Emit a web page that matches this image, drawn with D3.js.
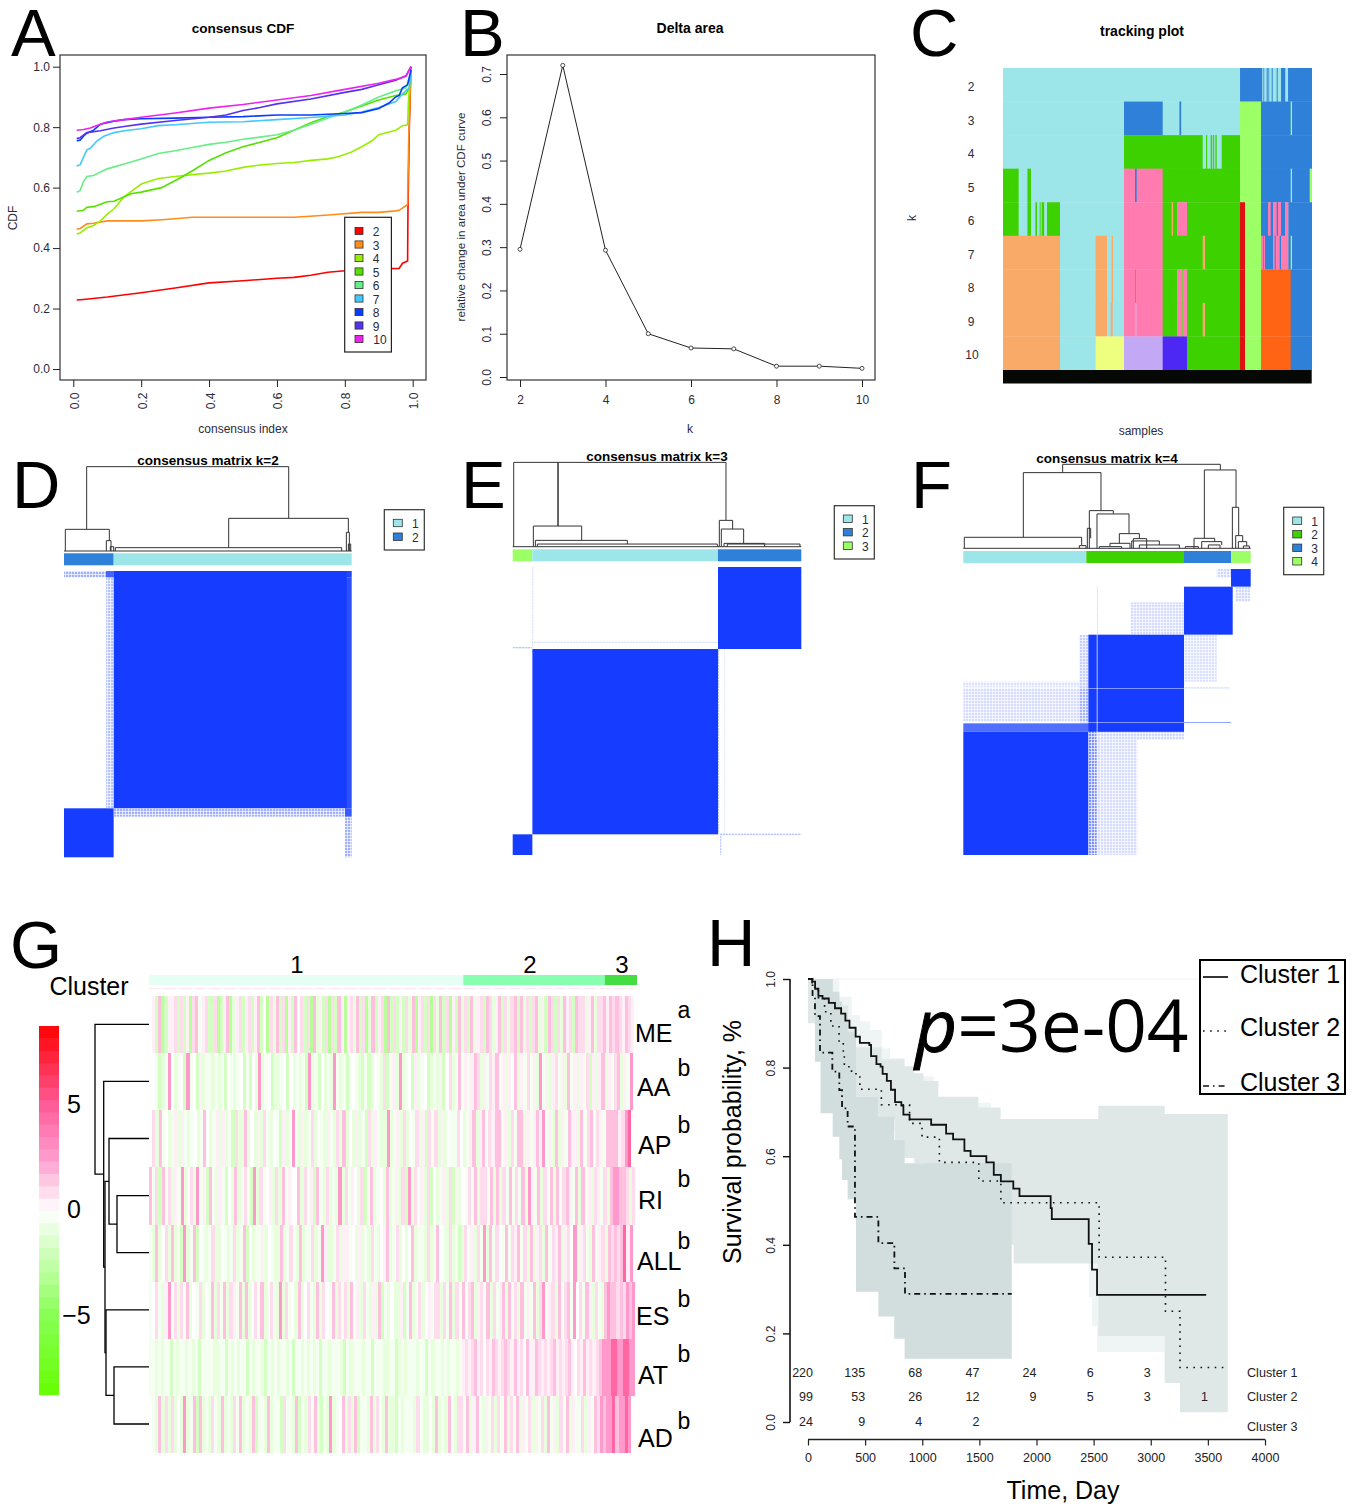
<!DOCTYPE html>
<html>
<head>
<meta charset="utf-8">
<title>consensus clustering figure</title>
<script src="https://cdnjs.cloudflare.com/ajax/libs/d3/7.8.5/d3.min.js"></script>
<style>
html, body { margin: 0; padding: 0; background: #fff; }
svg { display: block; }
text { font-family: "Liberation Sans", Arial, sans-serif; }
</style>
</head>
<body>
<div id="chart"></div>
<script>
// panel A - consensus CDF, one list per k
const cdf2 = [[.01,.228],[.03,.23],[.1,.238],[.2,.252],[.3,.268],[.4,.285],[.5,.292],[.6,.3],[.65,.303],[.7,.31],[.75,.32],[.8,.325],[.85,.33],[.9,.332],[.96,.333],[.97,.35],[.985,.357],[.986,.52],[.99,.8],[.995,1]];
const cdf3 = [[.01,.462],[.02,.465],[.04,.48],[.06,.482],[.1,.49],[.2,.49],[.25,.493],[.3,.497],[.35,.502],[.5,.502],[.65,.502],[.72,.507],[.78,.512],[.85,.518],[.9,.518],[.95,.523],[.96,.525],[.98,.54],[.985,.545],[.988,.75],[.992,.9],[.995,1]];
const cdf4 = [[.01,.447],[.02,.45],[.04,.467],[.06,.475],[.08,.49],[.1,.512],[.12,.53],[.15,.57],[.18,.595],[.2,.612],[.25,.63],[.3,.637],[.35,.643],[.4,.648],[.45,.655],[.5,.667],[.55,.675],[.6,.68],[.65,.683],[.7,.69],[.75,.695],[.78,.702],[.82,.718],[.85,.735],[.88,.755],[.9,.775],[.95,.79],[.97,.805],[.985,.808],[.988,.9],[.995,.98]];
const cdf5 = [[.01,.522],[.03,.525],[.04,.535],[.06,.537],[.08,.545],[.1,.553],[.12,.555],[.17,.58],[.2,.585],[.26,.6],[.32,.635],[.35,.655],[.4,.69],[.45,.715],[.5,.735],[.55,.75],[.6,.765],[.65,.79],[.7,.815],[.75,.835],[.8,.85],[.85,.87],[.9,.89],[.95,.905],[.98,.91],[.99,.93],[.995,.98]];
const cdf6 = [[.01,.585],[.02,.59],[.03,.62],[.04,.637],[.06,.64],[.08,.652],[.1,.662],[.15,.678],[.2,.695],[.25,.713],[.3,.722],[.35,.733],[.4,.743],[.45,.75],[.5,.76],[.55,.767],[.6,.775],[.65,.79],[.7,.81],[.75,.83],[.8,.85],[.85,.873],[.9,.9],[.95,.92],[.98,.93],[.995,.98]];
const cdf7 = [[.01,.672],[.02,.675],[.03,.7],[.04,.725],[.05,.73],[.07,.755],[.09,.77],[.12,.782],[.15,.788],[.2,.795],[.25,.805],[.3,.808],[.35,.812],[.4,.816],[.5,.818],[.6,.825],[.7,.832],[.75,.836],[.8,.84],[.85,.85],[.9,.865],[.95,.885],[.97,.91],[.99,.93],[.995,.99]];
const cdf8 = [[.01,.755],[.02,.757],[.03,.77],[.04,.78],[.06,.79],[.08,.81],[.1,.815],[.12,.82],[.15,.825],[.2,.828],[.3,.83],[.4,.833],[.5,.835],[.6,.84],[.7,.84],[.8,.845],[.85,.848],[.9,.862],[.93,.88],[.95,.9],[.96,.905],[.97,.93],[.985,.94],[.995,.99]];
const cdf9 = [[.01,.762],[.02,.765],[.04,.782],[.08,.788],[.12,.797],[.15,.802],[.2,.81],[.3,.822],[.4,.833],[.45,.84],[.5,.855],[.55,.865],[.6,.877],[.7,.893],[.8,.915],[.85,.925],[.9,.94],[.95,.955],[.98,.97],[.995,1]];
const cdf10 = [[.01,.79],[.03,.792],[.05,.797],[.08,.81],[.1,.817],[.15,.825],[.2,.833],[.3,.847],[.4,.863],[.5,.875],[.6,.89],[.7,.905],[.8,.925],[.9,.945],[.95,.958],[.98,.968],[.995,1]];
const cdfSeries = [cdf2, cdf3, cdf4, cdf5, cdf6, cdf7, cdf8, cdf9, cdf10];
const cdfLabels = ["2","3","4","5","6","7","8","9","10"];
const cdfColors = ["#ff0000","#ff8c1a","#99ee00","#55e000","#66ee88","#44c8ff","#0a3cff","#5533ee","#ee22ee"];
const unitTicks = [0,.2,.4,.6,.8,1];

// panel B - delta area
const deltaK = [2,3,4,5,6,7,8,9,10];
const deltaArea = [.295,.72,.293,.1,.067,.065,.025,.025,.02];
const deltaYTicks = [0,.1,.2,.3,.4,.5,.6,.7];
const deltaXTicks = [2,4,6,8,10];

// panel C - tracking plot, runs of [cluster colour key, end rank]
const trackColors = {a:"#9ce5e8",b:"#2e80d9",c:"#3dd100",d:"#9cff66",e:"#ff7bb0",f:"#f9aa69",g:"#eeff80",h:"#c2a8f5",i:"#4d28f5",j:"#e01010",k:"#ff6314",l:"#ff5a70"};
const track2 = [["a",711],["b",778],["a",781],["b",784],["a",791],["b",794],["a",796],["b",799],["a",806],["b",809],["a",821],["b",824],["a",834],["b",847],["a",855],["b",926]];
const track3 = [["a",363],["b",479],["a",529],["b",535],["a",711],["d",774],["b",863],["d",867],["b",926]];
const track4 = [["a",363],["c",599],["a",609],["c",613],["a",623],["c",628],["a",630],["c",634],["a",637],["c",641],["a",656],["c",711],["d",774],["b",926]];
const track5 = [["c",47],["a",73],["c",84],["a",363],["e",396],["b",401],["e",479],["c",711],["d",774],["b",863],["a",867],["b",920],["d",926]];
const track6 = [["c",47],["a",73],["c",84],["a",97],["c",102],["a",110],["c",113],["a",116],["c",124],["a",132],["c",171],["a",363],["e",479],["c",506],["f",510],["c",523],["e",552],["c",711],["j",726],["d",774],["b",795],["e",803],["b",810],["e",821],["b",825],["e",834],["b",846],["e",856],["b",926]];
const track7 = [["f",171],["a",278],["f",312],["a",325],["f",330],["a",363],["e",479],["c",599],["f",606],["c",711],["j",726],["d",774],["e",780],["b",782],["e",786],["b",810],["e",815],["b",818],["e",830],["b",834],["e",856],["b",863],["d",867],["b",926]];
const track8 = [["f",171],["a",278],["f",312],["a",325],["f",330],["a",363],["e",396],["l",400],["e",479],["c",523],["e",538],["c",541],["e",552],["c",711],["j",726],["d",774],["k",863],["b",926]];
const track9 = [["f",171],["a",278],["f",312],["a",323],["f",329],["a",363],["e",396],["h",400],["e",479],["c",523],["e",538],["c",541],["e",552],["c",599],["f",606],["c",711],["j",726],["d",774],["k",863],["b",926]];
const track10 = [["f",171],["a",278],["g",363],["h",479],["i",552],["c",711],["j",726],["d",774],["k",863],["b",926]];
const trackRows = [track2, track3, track4, track5, track6, track7, track8, track9, track10];
const trackLabels = ["2","3","4","5","6","7","8","9","10"];

// panels D E F - consensus matrices. blocks are [x0,x1,y0,y1,strength], ranks from top left
const blocksK2 = [[149,848,0,712,1],[0,149,712,859,1],[126,149,0,712,.3],[0,126,0,19,.4],[126,149,0,19,.75],[149,863,0,19,.95],[843,863,19,712,.9],[149,843,712,737,.4],[843,863,712,737,.85],[843,863,737,859,.4]];
const blocksK3 = [[616,866,0,246,1],[59,616,246,802,1],[0,59,802,864,1],[59,63,0,238,.2],[63,616,224,228,.15],[0,59,240,244,.3],[616,620,246,802,.3],[634,638,246,802,.1],[622,866,800,804,.3],[622,626,804,864,.25]];
const blocksK4 = [[803,862,0,53,1],[662,808,53,197,1],[375,662,197,488,1],[0,375,488,858,1],[0,375,463,488,.75],[375,400,488,858,.55],[375,662,463,488,.8],[400,662,488,513,.2],[0,375,358,458,.18],[0,350,338,355,.15],[348,375,198,463,.25],[400,522,513,858,.18],[502,662,100,197,.18],[662,760,197,338,.16],[401,404,53,197,.45],[760,803,0,25,.2],[815,860,53,98,.2],[662,800,356,359,.4],[662,803,459,461,.7]];
const whiteK4 = [[375,662,358,360],[0,662,460,462],[400,403,197,513]];

const annotColors = {a:"#9ce5e8",b:"#2e80d9",c:"#3dd100",d:"#9cff66"};
const annotK2 = [["b",149],["a",863]];
const annotK3 = [["d",59],["a",616],["b",866]];
const annotK4 = [["a",369],["c",662],["b",803],["d",862]];
const legendK2 = [["a","1"],["b","2"]];
const legendK3 = [["a","1"],["b","2"],["d","3"]];
const legendK4 = [["a","1"],["c","2"],["b","3"],["d","4"]];

// dendrogram merges [left, right, height, left height, right height]
const treeK2 = [[68,674,253,65,98],[4,136,65,0,31],[127,141,31,0,0],[139,149,13,0,0],[494,853,98,10,56],[154,833,10,0,0],[847,856,56,0,0],[853,860,21,0,0]];
const treeK3 = [[3,640,253,0,79],[136,136,253,62,62],[62,207,62,0,20],[68,344,19,0,8],[74,614,8,0,0],[620,660,79,0,53],[626,693,53,0,10],[634,756,10,0,0],[644,862,8,0,0]];
const treeK4 = [[298,771,252,227,235],[180,413,227,33,113],[3,355,33,0,10],[348,368,8,0,0],[378,450,113,0,103],[372,382,60,0,30],[401,497,103,0,44],[468,528,44,15,29],[440,500,15,5,0],[408,475,5,0,0],[505,588,22,0,10],[510,550,29,0,0],[528,648,10,0,0],[723,818,235,30,123],[692,754,30,0,20],[715,775,20,0,10],[666,705,5,0,0],[735,770,10,0,0],[807,826,123,0,38],[817,838,38,0,20],[825,850,20,0,7],[840,858,7,0,0]];

// panel G - heatmap, one digit per column, digit indexes heatLevels
const heatLevels = [-3,-1.8,-1,-.4,0,.4,.9,1.6,2.6,4.6];
const heatNames = ["ME","AA","AP","RI","ALL","ES","AT","AD"];
const heatSuper = ["a","b","b","b","b","b","b","b"];
const rowME  = "4517015561615067356116015702561561571406271605173616072516061750562716027156071615162705616062716051" + "7261725617625716267172616725176162756176625726" + "67576765765";
const rowAA  = "4431238423418341523323231432341314282341223414232318231423283231343213124326135282341523412325146237" + "353576253657352547253635283525635273525361525" + "7253672538";
const rowAP  = "4627342352532342374235252316227242526324315238325236243253262724252316253228235262436251636252433642" + "357257365773526377253575835272537552736736537" + "7775689";
const rowRI  = "7361736253824628351732531427236318263452627354472635173262328263542613723427235261826352614235261524" + "3637266372726373637285372637273675372735265362" + "78877626";
const rowALL = "3272462723182371432362243236237142335243227236327233623852236255342523263245723624247233262374326231" + "263526382736437365736272562736572564825632735" + "6276767958";
const rowES  = "3463258362637243624372637265372724637236328263427246327264372636273526325271324225137236245366263726" + "3736725637263572736273537268356273673846375263" + "27877676878";
const rowAT  = "3323233132332323133332233132323313233213232332313323232313323332132333233133322331232333233132332323323" + "5656756465765676575647557656567565675465756567" + "88899889988";
const rowAD  = "4327262624282371723263272326372327133272331633271326372132823472627133272632722132333263224272327326" + "637257325362637263725362536273526372533625376" + "8788978898";
const heatRows = [rowME, rowAA, rowAP, rowRI, rowALL, rowES, rowAT, rowAD];
const heatClusters = [["1",0,64.4],["2",64.4,93.4],["3",93.4,100]];
const heatClusterFill = ["#e6fff5","#88ffb0","#44dd44"];
const colorbarTicks = [5,0,-5];

// merges of the row tree [height, pos a, height a, pos b, height b], pos in rows
const rowTree = [[32,3,0,4,0],[40,2,0,3.5,32],[35,6,0,7,0],[43,5,0,6.5,35],[44,2.75,40,5.75,43],[45.3,1,0,4.25,44],[54,0,0,2.625,45.3]];

// panel H - survival curves
const survC1 = [[0,1],[36,.994],[62,.978],[91,.962],[127,.956],[182,.946],[236,.934],[290,.922],[327,.906],[363,.89],[417,.87],[454,.856],[537,.851],[552,.826],[599,.808],[635,.802],[653,.786],[690,.77],[726,.75],[762,.722],[817,.714],[835,.694],[889,.683],[1078,.671],[1209,.651],[1270,.638],[1369,.612],[1423,.6],[1561,.586],[1626,.558],[1688,.543],[1797,.527],[1851,.51],[2124,.483],[2134,.458],[2457,.402],[2486,.344],[2530,.287],[3485,.287]];
const survC2 = [[0,1],[36,.982],[91,.958],[145,.926],[200,.894],[272,.858],[309,.83],[318,.802],[381,.786],[454,.751],[642,.716],[889,.674],[998,.643],[1150,.586],[1495,.544],[1688,.495],[2548,.372],[3129,.25],[3256,.123],[3667,.123]];
const survC3 = [[0,1],[40,.958],[61,.916],[105,.834],[213,.791],[274,.749],[298,.708],[347,.667],[411,.463],[616,.404],[756,.347],[849,.289],[1783,.289]];
// confidence bands [t, lower, upper]
const bandC1 = [[0,.95,1],[216,.9,1],[274,.85,.96],[382,.8,.919],[455,.76,.904],[543,.72,.885],[645,.7,.843],[718,.66,.821],[849,.6,.78],[1100,.56,.72],[1600,.45,.68],[2113,.4,.68],[2450,.358,.68],[2457,.282,.68],[2486,.216,.68],[2530,.158,.68],[3485,.158,.68]];
const bandC2 = [[0,.9,1],[216,.85,.97],[274,.8,.94],[351,.76,.885],[420,.734,.846],[616,.685,.846],[645,.685,.819],[762,.637,.819],[841,.596,.803],[930,.584,.787],[1010,.55,.77],[1141,.5,.734],[1491,.45,.71],[1686,.4,.684],[1800,.358,.684],[2541,.194,.714],[3122,.088,.695],[3256,.022,.695],[3674,.022,.695]];
const bandC3 = [[61,.813,1],[110,.697,1],[216,.644,.971],[274,.593,.949],[298,.546,.92],[347,.503,.88],[420,.294,.734],[616,.238,.689],[755,.188,.637],[846,.143,.584],[1783,.143,.584]];
const survXTicks = [0,500,1000,1500,2000,2500,3000,3500,4000];
const survYTicks = [0,.2,.4,.6,.8,1];
const atRiskTimes = [0,500,1000,1500,2000,2500,3000,3500];
const atRiskC1 = ["220","135","68","47","24","6","3"];
const atRiskC2 = ["99","53","26","12","9","5","3","1"];
const atRiskC3 = ["24","9","4","2"];
const clusterNames = ["Cluster 1","Cluster 2","Cluster 3"];

const navy = "#2b2b3a";
const matrixBlue = "#163dff";

var svg = d3.select("#chart").append("svg")
    .attr("width", 1351)
    .attr("height", 1506);

var defs = svg.append("defs");
var mott = defs.append("pattern")
    .attr("id", "mott")
    .attr("width", 3)
    .attr("height", 3)
    .attr("patternUnits", "userSpaceOnUse");
mott.append("rect").attr("width", 3).attr("height", 3).attr("fill", matrixBlue);
mott.append("rect").attr("x", 2).attr("width", .8).attr("height", 3).attr("fill", "#fff").attr("opacity", .8);
mott.append("rect").attr("y", 1).attr("width", 3).attr("height", .8).attr("fill", "#fff").attr("opacity", .8);

function label(x, y, str, size, opts) {
    opts = opts || {};
    var t = svg.append("text")
        .attr("x", x)
        .attr("y", y)
        .attr("font-size", size)
        .attr("text-anchor", opts.anchor || "middle")
        .attr("dominant-baseline", opts.base || "central")
        .attr("fill", opts.fill || "#000")
        .text(str);
    if (opts.bold) t.attr("font-weight", "bold");
    if (opts.rot) t.attr("transform", "rotate(" + opts.rot + " " + x + " " + y + ")");
    return t;
}

function panelLetter(str, x, y) {
    label(x, y, str, 67, {anchor: "start", base: "auto"});
}

function styleAxis(g, size) {
    g.select(".domain").remove();
    g.selectAll("line").attr("stroke", "#222");
    g.selectAll("text").attr("font-size", size).attr("fill", navy)
        .attr("font-family", "'Liberation Sans', Arial, sans-serif");
}

// R style labels, turned to read along the axis. inside a tick group so only the offset is needed
function rotateTickText(g, offset) {
    g.selectAll("text")
        .attr("text-anchor", "middle")
        .attr("dominant-baseline", "central")
        .attr("dy", 0)
        .attr("transform", "rotate(-90)")
        .attr("x", 0)
        .attr("y", offset);
}

function boxRect(x0, y0, x1, y1) {
    svg.append("rect")
        .attr("x", x0).attr("y", y0)
        .attr("width", x1 - x0).attr("height", y1 - y0)
        .attr("fill", "none")
        .attr("stroke", "#333")
        .attr("stroke-width", 1.2);
}

function drawCdf() {
    var x = d3.scaleLinear().domain([0, 1]).range([73.3, 412.7]);
    var y = d3.scaleLinear().domain([0, 1]).range([369, 66.7]);
    var line = d3.line().x(d => x(d[0])).y(d => y(d[1]));

    cdfSeries.forEach(function(s, i) {
        svg.append("path")
            .attr("d", line(s))
            .attr("fill", "none")
            .attr("stroke", cdfColors[i])
            .attr("stroke-width", 1.6);
    });

    boxRect(60, 55, 426, 380);

    var gx = svg.append("g").attr("transform", "translate(0,380)")
        .call(d3.axisBottom(x).tickValues(unitTicks).tickSize(7).tickFormat(d3.format(".1f")));
    styleAxis(gx, 12);
    gx.selectAll("text")
        .attr("text-anchor", "middle")
        .attr("dominant-baseline", "central")
        .attr("dy", 0)
        .attr("transform", "rotate(-90)")
        .attr("x", -21)
        .attr("y", 1);

    var gy = svg.append("g").attr("transform", "translate(60,0)")
        .call(d3.axisLeft(y).tickValues(unitTicks).tickSize(7).tickFormat(d3.format(".1f")));
    styleAxis(gy, 12);

    label(243, 28, "consensus CDF", 13.6, {bold: true});
    label(243, 429, "consensus index", 12, {fill: navy});
    label(13, 218, "CDF", 12, {fill: navy, rot: -90});

    // legend
    svg.append("rect").attr("x", 344.7).attr("y", 217.3).attr("width", 46.7).attr("height", 134.7)
        .attr("fill", "#fff").attr("stroke", "#222").attr("stroke-width", 1.2);
    var ly = d3.scalePoint().domain(cdfLabels).range([231, 339]);
    cdfLabels.forEach(function(k, i) {
        svg.append("rect").attr("x", 355).attr("y", ly(k) - 3.6).attr("width", 8).attr("height", 7.2)
            .attr("fill", cdfColors[i]).attr("stroke", "#333").attr("stroke-width", .8);
        label(i == 8 ? 380 : 376, ly(k) + 1, k, 12, {fill: navy});
    });
}

function drawDelta() {
    var x = d3.scaleLinear().domain([2, 10]).range([520, 862]);
    var y = d3.scaleLinear().domain([0, .7]).range([377, 74]);
    var pts = d3.zip(deltaK, deltaArea);

    boxRect(507, 55, 875, 380);
    svg.append("path")
        .attr("d", d3.line().x(d => x(d[0])).y(d => y(d[1]))(pts))
        .attr("fill", "none").attr("stroke", "#222").attr("stroke-width", 1);
    svg.selectAll(".deltaPt").data(pts).enter().append("circle")
        .attr("class", "deltaPt")
        .attr("cx", d => x(d[0])).attr("cy", d => y(d[1])).attr("r", 2)
        .attr("fill", "#fff").attr("stroke", "#222").attr("stroke-width", .8);

    var gx = svg.append("g").attr("transform", "translate(0,380)")
        .call(d3.axisBottom(x).tickValues(deltaXTicks).tickSize(7).tickFormat(d3.format("d")));
    styleAxis(gx, 12);
    gx.selectAll("text").attr("y", 15);

    var gy = svg.append("g").attr("transform", "translate(507,0)")
        .call(d3.axisLeft(y).tickValues(deltaYTicks).tickSize(7).tickFormat(d3.format(".1f")));
    styleAxis(gy, 12);
    rotateTickText(gy, -20);

    label(690, 28, "Delta area", 14, {bold: true});
    label(690, 429, "k", 12, {fill: navy});
    label(460, 217, "relative change in area under CDF curve", 11.6, {fill: navy, rot: -90});
}

function drawTracking() {
    var x = d3.scaleLinear().domain([0, 926]).range([1003, 1311.7]);
    var y = d3.scaleBand().domain(trackLabels).range([68, 370]);

    trackRows.forEach(function(row, i) {
        var start = 0;
        row.forEach(function(run) {
            svg.append("rect")
                .attr("x", x(start)).attr("y", y(trackLabels[i]))
                .attr("width", x(run[1]) - x(start) + .3)
                .attr("height", y.bandwidth() + .3)
                .attr("fill", trackColors[run[0]]);
            start = run[1];
        });
        label(i == 8 ? 972 : 971, y(trackLabels[i]) + 19, trackLabels[i], 12, {fill: navy});
    });
    svg.append("rect").attr("x", x(0)).attr("y", 370).attr("width", x(926) - x(0)).attr("height", 13.5).attr("fill", "#050805");

    label(1142, 31, "tracking plot", 14, {bold: true});
    label(1141, 431, "samples", 12, {fill: navy});
    label(912, 218, "k", 12, {fill: navy, rot: -90});
}

function drawMatrix(p) {
    var x = d3.scaleLinear().domain([0, p.w]).range([p.x0, p.x1]);
    var y = d3.scaleLinear().domain([0, p.h]).range([p.y0, p.y1]);
    var hgt = d3.scaleLinear().domain([0, 253]).range([p.base, p.base - 253 / 3]);

    p.blocks.forEach(function(b) {
        svg.append("rect")
            .attr("x", x(b[0])).attr("y", y(b[2]))
            .attr("width", x(b[1]) - x(b[0])).attr("height", y(b[3]) - y(b[2]))
            .attr("fill", b[4] < .6 ? "url(#mott)" : matrixBlue)
            .attr("opacity", b[4]);
    });
    (p.white || []).forEach(function(b) {
        svg.append("rect")
            .attr("x", x(b[0])).attr("y", y(b[2]))
            .attr("width", x(b[1]) - x(b[0])).attr("height", y(b[3]) - y(b[2]))
            .attr("fill", "#fff").attr("opacity", .7);
    });

    var start = 0;
    p.annot.forEach(function(run) {
        svg.append("rect")
            .attr("x", x(start)).attr("y", p.barY)
            .attr("width", x(run[1]) - x(start)).attr("height", 12)
            .attr("fill", annotColors[run[0]]);
        start = run[1];
    });

    svg.append("line")
        .attr("x1", x(0)).attr("x2", x(p.w))
        .attr("y1", p.base).attr("y2", p.base)
        .attr("stroke", "#333").attr("stroke-width", 1);
    p.tree.forEach(function(n) {
        var d = d3.path();
        d.moveTo(x(n[0]), hgt(n[3]));
        d.lineTo(x(n[0]), hgt(n[2]));
        d.lineTo(x(n[1]), hgt(n[2]));
        d.lineTo(x(n[1]), hgt(n[4]));
        svg.append("path").attr("d", d.toString())
            .attr("fill", "none").attr("stroke", "#333").attr("stroke-width", 1);
    });

    label(p.titleX, p.titleY, p.title, 13.5, {bold: true});

    svg.append("rect").attr("x", p.legX).attr("y", p.legY)
        .attr("width", 40).attr("height", p.legH)
        .attr("fill", "#fff").attr("stroke", "#333").attr("stroke-width", 1.2);
    var ly = d3.scalePoint().domain(p.legend.map(d => d[1])).range(p.legRows);
    p.legend.forEach(function(d) {
        svg.append("rect").attr("x", p.legX + 9).attr("y", ly(d[1]) - 3.7)
            .attr("width", 9).attr("height", 7.4)
            .attr("fill", annotColors[d[0]]).attr("stroke", "#333").attr("stroke-width", .8);
        label(p.legX + 31, ly(d[1]) + 1, d[1], 12, {fill: navy});
    });
}

function drawHeatmap() {
    var rowEnd = [634, 632.7, 631, 635, 632.7, 635, 635, 631];
    var rowY = d3.scaleBand().domain(heatNames).range([996, 1453]);
    var col = d3.scaleLinear()
        .domain([-8.75, -5, 0, 2.6, 5, 8.75])
        .range(["#66ff00", "#88ff55", "#ffffff", "#ff99cc", "#ff5c99", "#ff0000"]);
    var clusterX = d3.scaleLinear().domain([0, 100]).range([149, 637]);

    heatRows.forEach(function(row, r) {
        var colW = (rowEnd[r] - 149) / row.length;
        svg.append("g").selectAll("rect").data(row.split("")).enter().append("rect")
            .attr("x", (d, i) => 149 + i * colW)
            .attr("y", rowY(heatNames[r]))
            .attr("width", colW + .2)
            .attr("height", rowY.bandwidth())
            .attr("fill", d => col(heatLevels[+d]))
            .attr("shape-rendering", "crispEdges");
    });

    heatClusters.forEach(function(c, i) {
        svg.append("rect")
            .attr("x", clusterX(c[1])).attr("y", 975)
            .attr("width", clusterX(c[2]) - clusterX(c[1])).attr("height", 10)
            .attr("fill", heatClusterFill[i]);
    });
    svg.append("line").attr("x1", 149).attr("x2", 634).attr("y1", 988.5).attr("y2", 988.5)
        .attr("stroke", "#fde6ee").attr("stroke-dasharray", "12 3");
    label(297, 964, "1", 24);
    label(530, 964, "2", 24);
    label(622, 964, "3", 24);
    label(89, 986, "Cluster", 25);

    // row names and significance letters
    var nameX = [635, 637, 638, 638, 637, 636, 638, 638];
    var nameY = [1033, 1087, 1145, 1200, 1261, 1316, 1375, 1438];
    var supY = [1010, 1068, 1125, 1179, 1241, 1299, 1354, 1421];
    heatNames.forEach(function(n, i) {
        label(nameX[i], nameY[i], n, 25, {anchor: "start"});
        label(684, supY[i], heatSuper[i], 23);
    });

    // row tree
    var treeY = d3.scaleLinear().domain([0, 7]).range([1024.3, 1424]);
    var treeX = d3.scaleLinear().domain([0, 54]).range([149, 95]);
    rowTree.forEach(function(n) {
        var d = d3.path();
        d.moveTo(treeX(n[2]), treeY(n[1]));
        d.lineTo(treeX(n[0]), treeY(n[1]));
        d.lineTo(treeX(n[0]), treeY(n[3]));
        d.lineTo(treeX(n[4]), treeY(n[3]));
        svg.append("path").attr("d", d.toString())
            .attr("fill", "none").attr("stroke", "#000").attr("stroke-width", 1.3);
    });

    // colour bar, 30 flat steps like the original key
    var steps = d3.scaleLinear().domain([0, 30]).range([-8.75, 8.75]);
    var barY = d3.scaleLinear().domain([-8.75, 8.75]).range([1394.7, 1026]);
    d3.range(30).forEach(function(i) {
        svg.append("rect")
            .attr("x", 39).attr("y", barY(steps(i + 1)))
            .attr("width", 20).attr("height", barY(steps(i)) - barY(steps(i + 1)) + .5)
            .attr("fill", col(steps(i + .5)));
    });
    colorbarTicks.forEach(function(v) {
        label(v < 0 ? 76.5 : 74, barY(v) - 1, v < 0 ? "\u2212" + (-v) : String(v), 25);
    });
}

function drawSurvival() {
    var x = d3.scaleLinear().domain([0, 4000]).range([808, 1265]);
    var y = d3.scaleLinear().domain([0, 1]).range([1422, 979]);
    var area = d3.area().curve(d3.curveStepAfter)
        .x(d => x(d[0])).y0(d => y(d[1])).y1(d => y(d[2]));
    var line = d3.line().curve(d3.curveStepAfter).x(d => x(d[0])).y(d => y(d[1]));

    svg.append("line").attr("x1", x(0)).attr("x2", x(3500)).attr("y1", y(1)).attr("y2", y(1))
        .attr("stroke", "#f0f4f4");
    [[bandC1, "#eff4f4"], [bandC2, "#e0e8e7"], [bandC3, "#d2dddd"]].forEach(function(b) {
        svg.append("path").attr("d", area(b[0])).attr("fill", b[1]);
    });

    var styles = [[survC1, 1.8, null], [survC2, 1.6, "1.6 5.5"], [survC3, 1.8, "6 4 1.6 4"]];
    styles.forEach(function(s) {
        svg.append("path").attr("d", line(s[0]))
            .attr("fill", "none").attr("stroke", "#111")
            .attr("stroke-width", s[1])
            .attr("stroke-dasharray", s[2]);
    });

    var gx = svg.append("g").attr("transform", "translate(0,1439.5)")
        .call(d3.axisBottom(x).tickValues(survXTicks).tickSize(-6).tickFormat(d3.format("d")));
    gx.select(".domain").attr("stroke", "#222").attr("stroke-width", 1.6).attr("d", "M" + x(0) + ",0H" + x(4000));
    gx.selectAll("line").attr("stroke", "#222").attr("stroke-width", 1.2).attr("y2", 6);
    gx.selectAll("text").attr("y", 18).attr("dy", ".32em").attr("font-size", 12.5).attr("fill", "#222")
        .attr("font-family", "'Liberation Sans', Arial, sans-serif");

    var gy = svg.append("g").attr("transform", "translate(790,0)")
        .call(d3.axisLeft(y).tickValues(survYTicks).tickSize(7).tickFormat(d3.format(".1f")));
    gy.select(".domain").attr("stroke", "#111").attr("stroke-width", 1.6).attr("d", "M0," + y(0) + "V" + y(1));
    gy.selectAll("line").attr("stroke", "#111").attr("stroke-width", 1.4);
    gy.selectAll("text").attr("font-size", 12).attr("fill", "#222")
        .attr("font-family", "'Liberation Sans', Arial, sans-serif");
    rotateTickText(gy, -19);

    label(732, 1142, "Survival probability, %", 25, {rot: -90});
    label(1063, 1490, "Time, Day", 25);

    [atRiskC1, atRiskC2, atRiskC3].forEach(function(row, r) {
        var ry = [1373, 1397, 1422][r];
        row.forEach(function(v, i) {
            label(x(atRiskTimes[i]) + (i == 0 ? 5 : 0), ry, v, 12.5, {anchor: "end", fill: "#222"});
        });
        label(1247, [1373, 1397, 1427][r], clusterNames[r], 12.6, {anchor: "start", fill: "#222"});
    });

    // p value
    var pTxt = svg.append("text").attr("x", 915).attr("y", 1052).attr("font-size", 73)
        .style("font-family", "'Open Sans', sans-serif");
    pTxt.append("tspan").attr("font-style", "italic").attr("stroke", "#000").attr("stroke-width", 1).text("p");
    pTxt.append("tspan").text("=3e-04");

    // legend
    svg.append("rect").attr("x", 1200).attr("y", 960).attr("width", 145).attr("height", 134)
        .attr("fill", "#fff").attr("stroke", "#000").attr("stroke-width", 2);
    var legY = [977, 1031, 1086];
    var legText = [974, 1027, 1082];
    var legDash = [null, "1.6 5.5", "6 4 1.6 4"];
    clusterNames.forEach(function(n, i) {
        svg.append("line").attr("x1", 1203).attr("x2", 1228).attr("y1", legY[i]).attr("y2", legY[i])
            .attr("stroke", "#111").attr("stroke-width", 1.7).attr("stroke-dasharray", legDash[i]);
        label(1240, legText[i], n, 25, {anchor: "start"});
    });
}

panelLetter("A", 11, 56);
panelLetter("B", 460, 56);
panelLetter("C", 910, 56);
panelLetter("D", 12, 508);
panelLetter("E", 461, 508);
panelLetter("F", 911, 508);
panelLetter("G", 10, 968);
panelLetter("H", 707, 966);

drawCdf();
drawDelta();
drawTracking();
drawMatrix({x0: 64, x1: 351.7, y0: 571, y1: 857.3, w: 863, h: 859, base: 551, barY: 553.3,
    blocks: blocksK2, annot: annotK2, tree: treeK2, title: "consensus matrix k=2", titleX: 208, titleY: 460,
    legend: legendK2, legX: 384.3, legY: 509.7, legH: 40.3, legRows: [523, 536.7]});
drawMatrix({x0: 512.7, x1: 801.3, y0: 567, y1: 855, w: 866, h: 864, base: 546.7, barY: 549.3,
    blocks: blocksK3, annot: annotK3, tree: treeK3, title: "consensus matrix k=3", titleX: 657, titleY: 456,
    legend: legendK3, legX: 834.3, legY: 505.7, legH: 53.3, legRows: [518.7, 545.7]});
drawMatrix({x0: 963.3, x1: 1250.7, y0: 569, y1: 855, w: 862, h: 858, base: 548.3, barY: 551,
    blocks: blocksK4, white: whiteK4, annot: annotK4, tree: treeK4, title: "consensus matrix k=4", titleX: 1107, titleY: 458,
    legend: legendK4, legX: 1283.7, legY: 507.3, legH: 67.4, legRows: [520.7, 561.3]});
drawHeatmap();
drawSurvival();
</script>
</body>
</html>
